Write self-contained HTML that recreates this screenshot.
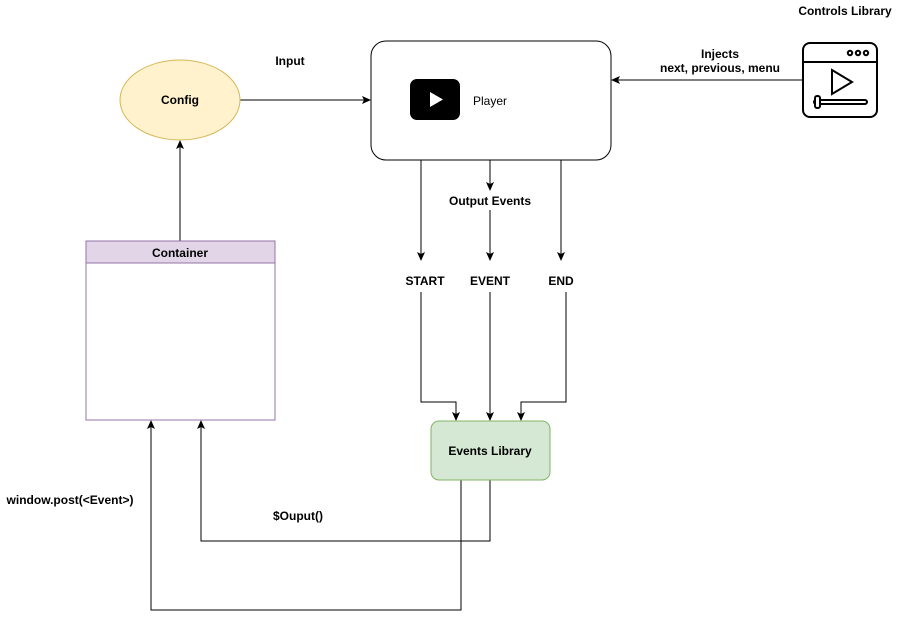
<!DOCTYPE html>
<html><head><style>body{margin:0;background:#fff}svg{display:block}text{font-family:"Liberation Sans",Arial,sans-serif;font-size:12px;fill:#000}</style></head>
<body>
<svg width="901" height="619" viewBox="0 0 901 619" xmlns="http://www.w3.org/2000/svg">
<defs><marker id="a" markerWidth="9" markerHeight="9" refX="8" refY="4.5" orient="auto" markerUnits="userSpaceOnUse"><path d="M0,0.5 L9,4.5 L0,8.5 L2,4.5 Z" fill="#000"/></marker></defs>
<g stroke="#000" fill="none" stroke-width="1">
<line x1="240" y1="100" x2="370" y2="100" marker-end="url(#a)"/>
<line x1="802" y1="80" x2="612" y2="80" marker-end="url(#a)"/>
<line x1="180" y1="241" x2="180" y2="141" marker-end="url(#a)"/>
<line x1="421" y1="160" x2="421" y2="260" marker-end="url(#a)"/>
<line x1="490" y1="160" x2="490" y2="190" marker-end="url(#a)"/>
<line x1="490" y1="210" x2="490" y2="260" marker-end="url(#a)"/>
<line x1="561" y1="160" x2="561" y2="260" marker-end="url(#a)"/>
<polyline points="421,292 421,402 456,402 456,420" marker-end="url(#a)"/>
<line x1="490" y1="292" x2="490" y2="420" marker-end="url(#a)"/>
<polyline points="566,292 566,402 521,402 521,420" marker-end="url(#a)"/>
<polyline points="490,480 490,541 201,541 201,421" marker-end="url(#a)"/>
<polyline points="461,480 461,610 151,610 151,421" marker-end="url(#a)"/>
</g>
<ellipse cx="180" cy="100" rx="60" ry="40" fill="#fff2cc" stroke="#d6b656"/>
<text x="180" y="104" text-anchor="middle" font-weight="bold">Config</text>
<rect x="371" y="41" width="240" height="119" rx="15" fill="#fff" stroke="#000"/>
<rect x="410" y="79" width="50" height="41" rx="7" fill="#000"/>
<path d="M430,92 L443,99.5 L430,107 Z" fill="#fff"/>
<text x="473" y="105">Player</text>
<rect x="86" y="241" width="189" height="179" fill="#fff" stroke="#9673a6"/>
<rect x="86" y="241" width="189" height="22" fill="#e1d5e7" stroke="#9673a6"/>
<text x="180" y="257" text-anchor="middle" font-weight="bold">Container</text>
<rect x="431" y="421" width="119" height="59" rx="8" fill="#d5e8d4" stroke="#82b366"/>
<text x="490" y="455" text-anchor="middle" font-weight="bold">Events Library</text>
<g stroke="#000" stroke-width="2" fill="none">
<rect x="803" y="43" width="74" height="74" rx="7"/>
<line x1="803" y1="62" x2="877" y2="62"/>
<circle cx="850" cy="53" r="2.2"/><circle cx="858" cy="53" r="2.2"/><circle cx="866" cy="53" r="2.2"/>
<path d="M832,70 L852,82 L832,94 Z"/>
<rect x="814" y="100" width="53" height="4" rx="2"/>
<rect x="815" y="96" width="5" height="12" rx="2" fill="#fff"/>
</g>
<g font-weight="bold">
<text x="290" y="65" text-anchor="middle">Input</text>
<text x="720" y="58" text-anchor="middle">Injects</text>
<text x="720" y="72" text-anchor="middle">next, previous, menu</text>
<text x="845" y="15" text-anchor="middle">Controls Library</text>
<text x="490" y="205" text-anchor="middle">Output Events</text>
<text x="425" y="285" text-anchor="middle">START</text>
<text x="490" y="285" text-anchor="middle">EVENT</text>
<text x="561" y="285" text-anchor="middle">END</text>
<text x="298" y="520" text-anchor="middle">$Ouput()</text>
<text x="70" y="504" text-anchor="middle">window.post(&lt;Event&gt;)</text>
</g>
</svg>
</body></html>
